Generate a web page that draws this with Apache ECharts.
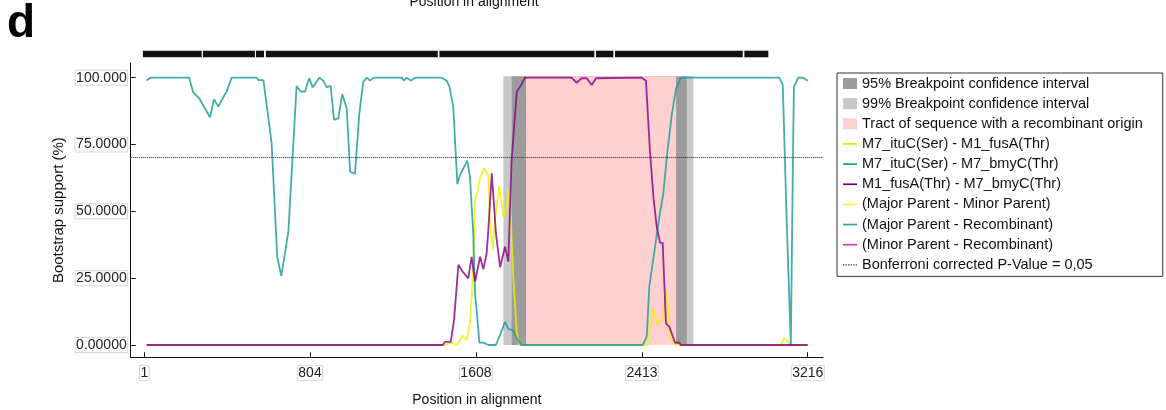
<!DOCTYPE html>
<html><head><meta charset="utf-8">
<script src="https://cdn.jsdelivr.net/npm/echarts@6/dist/echarts.min.js"></script>
<style>html,body{margin:0;padding:0;background:#fff}#chart{width:1166px;height:410px}</style>
</head><body><div id="chart"></div>
<script>
// ---------- data ----------
const xTicks = [1, 804, 1608, 2413, 3216];
const yTicks = [0, 25, 50, 75, 100];
const yTickLabels = ['0.00000', '25.0000', '50.0000', '75.0000', '100.000'];

const legendNames = [
  '95% Breakpoint confidence interval',
  '99% Breakpoint confidence interval',
  'Tract of sequence with a recombinant origin',
  'M7_ituC(Ser) - M1_fusA(Thr)',
  'M7_ituC(Ser) - M7_bmyC(Thr)',
  'M1_fusA(Thr) - M7_bmyC(Thr)',
  '(Major Parent - Minor Parent)',
  '(Major Parent - Recombinant)',
  '(Minor Parent - Recombinant)',
  'Bonferroni corrected P-Value = 0,05'
];

// M7_ituC(Ser) - M7_bmyC(Thr)  (teal)
const tealPos = [12, 30, 218, 238, 267, 319, 339, 360, 381, 400, 424, 546, 553, 578, 618, 645, 665, 699, 739, 759, 780, 800, 817, 849, 868, 885, 904, 920, 941, 960, 982, 998, 1022, 1043, 1062, 1079, 1095, 1111, 1248, 1260, 1273, 1292, 1313, 1442, 1466, 1480, 1498, 1507, 1518, 1531, 1566, 1579, 1595, 1604, 1625, 1644, 1668, 1705, 1728, 1749, 1765, 1786, 1806, 1827, 2416, 2436, 2448, 2468, 2492, 2516, 2536, 2557, 2578, 2600, 2613, 3078, 3095, 3114, 3134, 3143, 3149, 3170, 3194, 3216];
const tealVal = [98.9, 100, 100, 94.5, 92.3, 85.2, 91.9, 89.2, 92.3, 94.8, 100, 100, 99.1, 99.1, 75.5, 33.0, 25.8, 42.4, 96.9, 94.8, 94.8, 99.8, 96.4, 100, 98.9, 96.4, 97.0, 84.2, 84.8, 93.9, 88.5, 64.8, 64.0, 86.7, 98.5, 100, 98.9, 100, 100, 98.9, 100, 98.9, 100, 100, 98.9, 96.6, 89.2, 88.6, 60.2, 63.6, 69.0, 63.0, 41.8, 19.3, 0.9, 0.9, 0, 0, 4.4, 8.7, 5.9, 5.6, 2.5, 0, 0, 3.1, 21.8, 32.4, 45.5, 56.7, 72.3, 86.0, 96.0, 99.8, 100, 100, 97.3, 46.8, 0, 60.5, 96.6, 100, 100, 98.9];

// M1_fusA(Thr) - M7_bmyC(Thr)  (purple)
const purplePos = [12, 1447, 1458, 1486, 1502, 1523, 1544, 1571, 1587, 1604, 1628, 1644, 1660, 1668, 1685, 1705, 1725, 1749, 1765, 1781, 1806, 1822, 1846, 2072, 2096, 2120, 2145, 2169, 2190, 2411, 2432, 2451, 2468, 2484, 2500, 2513, 2529, 2545, 2573, 2594, 2600, 3216];
const purpleVal = [0, 0, 1.2, 1.2, 9.4, 30.0, 27.4, 24.9, 33.0, 23.7, 33.0, 28.3, 34.3, 43.0, 64.2, 41.8, 29.1, 36.8, 31.2, 69.2, 94.8, 96.6, 100, 100, 98.1, 99.8, 99.8, 97.3, 99.8, 100, 98.9, 73.0, 55.5, 44.3, 38.3, 38.2, 8.1, 6.9, 0.9, 0.9, 0, 0];

// M7_ituC(Ser) - M1_fusA(Thr)  (yellow)
const yellowPos = [12, 1458, 1490, 1515, 1544, 1563, 1579, 1592, 1604, 1615, 1628, 1647, 1668, 1676, 1689, 1700, 1721, 1741, 1754, 1765, 1777, 1789, 1806, 1818, 2419, 2440, 2465, 2487, 2513, 2532, 2548, 2567, 2581, 3085, 3101, 3122, 3130, 3216];
const yellowVal = [0, 0, 0.9, 0, 3.4, 1.9, 8.1, 24.3, 54.2, 57.4, 62.4, 66.1, 63.6, 46.8, 35.5, 46.8, 59.5, 48.0, 50.5, 58.2, 48.0, 25.6, 4.4, 0, 0, 0, 13.7, 7.9, 9.4, 20.6, 3.1, 0.9, 0, 0, 2.5, 1.2, 0, 0];

// breakpoint intervals (alignment positions)
const ci99 = [1741, 2662];
const ci95 = [1781, 2630];
const tract = [1851, 2578];
const bonferroni = 70.2;

// informative-site bar above the plot
const siteStart = [-6, 285, 542, 590, 1431, 2190, 2282, 2909];
const siteEnd = [279, 537, 581, 1423, 2182, 2274, 2901, 3025];

// ---------- chart ----------
const FONT = "'Liberation Sans', Arial, sans-serif";
const chart = echarts.init(document.getElementById('chart'), null, {renderer: 'canvas'});

function bandRender(params, api) {
  const p0 = api.coord([api.value(0), 0]);
  const p1 = api.coord([api.value(1), 100.5]);
  return {type: 'rect', shape: {x: p0[0], y: p1[1], width: p1[0] - p0[0], height: p0[1] - p1[1]},
    style: {fill: api.visual('color')}};
}
function siteRender(params, api) {
  const p0 = api.coord([api.value(0), 0]);
  const p1 = api.coord([api.value(1), 1]);
  return {type: 'rect', shape: {x: p0[0], y: p1[1], width: p1[0] - p0[0], height: p0[1] - p1[1]},
    style: {fill: '#111'}};
}
const zip = (a, b) => a.map((v, i) => [v, b[i]]);
const lineIcon = 'path://M0,0L14,0L14,1.7L0,1.7Z';
const dotIcon = 'path://M0,0h1.2v1.2h-1.2zM2.4,0h1.2v1.2h-1.2zM4.8,0h1.2v1.2h-1.2zM7.2,0h1.2v1.2h-1.2zM9.6,0h1.2v1.2h-1.2zM12,0h1.2v1.2h-1.2z';

const labelBox = {borderColor: '#d6d6d6', borderWidth: 1, padding: [1, 1, 0, 1]};

const lineSeries = (name, pos, val, color) => ({
  type: 'line', name, data: zip(pos, val), symbol: 'none', showSymbol: false,
  xAxisIndex: 0, yAxisIndex: 0, z: 3, color,
  lineStyle: {color, width: 1.8, opacity: 0.82}, animation: false
});

chart.setOption({
  animation: false,
  backgroundColor: '#fff',
  textStyle: {fontFamily: FONT},
  grid: [
    {left: 130.7, right: 343, top: 63, bottom: 52.7, outerBoundsMode: 'none', containLabel: false},
    {left: 130.7, right: 343, top: 50.7, height: 6.6, outerBoundsMode: 'none', containLabel: false}
  ],
  xAxis: [
    {type: 'value', gridIndex: 0, min: -65, max: 3290,
      name: 'Position in alignment', nameLocation: 'middle', nameGap: 36, nameMoveOverlap: false,
      nameTextStyle: {fontSize: 14, color: '#111', fontFamily: FONT},
      axisLine: {show: true, onZero: false, lineStyle: {color: '#111', width: 1}},
      axisTick: {show: true, inside: true, length: 5, customValues: xTicks, lineStyle: {color: '#111'}},
      axisLabel: {customValues: xTicks, fontSize: 14, color: '#222', margin: 8, fontFamily: FONT,
        formatter: v => String(v), ...labelBox},
      splitLine: {show: false}},
    {type: 'value', gridIndex: 1, min: -65, max: 3290, show: false}
  ],
  yAxis: [
    {type: 'value', gridIndex: 0, min: -4.6, max: 105.5,
      name: 'Bootstrap support (%)', nameLocation: 'middle', nameGap: 64, nameMoveOverlap: false,
      nameTextStyle: {fontSize: 15, color: '#111', fontFamily: FONT},
      axisLine: {show: true, onZero: false, lineStyle: {color: '#111', width: 1}},
      axisTick: {show: true, inside: true, length: 5, customValues: yTicks, lineStyle: {color: '#111'}},
      axisLabel: {customValues: yTicks, fontSize: 14, color: '#222', margin: 3, fontFamily: FONT,
        formatter: v => yTickLabels[yTicks.indexOf(v)], ...labelBox},
      splitLine: {show: false}},
    {type: 'value', gridIndex: 1, min: 0, max: 1, show: false}
  ],
  legend: {
    orient: 'vertical', left: 837, top: 73, itemWidth: 14, itemHeight: 11, itemGap: 5.15,
    padding: [3, 20, 4, 6], borderColor: '#333', borderWidth: 1, selectedMode: false,
    itemStyle: {borderWidth: 0},
    textStyle: {fontSize: 14.5, color: '#111', fontFamily: FONT},
    data: [
      {name: legendNames[0], icon: 'rect', itemStyle: {color: '#9c9c9c'}},
      {name: legendNames[1], icon: 'rect', itemStyle: {color: '#c8c8c8'}},
      {name: legendNames[2], icon: 'rect', itemStyle: {color: '#ffd0d0'}},
      {name: legendNames[3], icon: lineIcon, itemStyle: {color: '#e6e600'}},
      {name: legendNames[4], icon: lineIcon, itemStyle: {color: '#1a9a9a'}},
      {name: legendNames[5], icon: lineIcon, itemStyle: {color: '#800080'}},
      {name: legendNames[6], icon: lineIcon, itemStyle: {color: '#f2f230'}},
      {name: legendNames[7], icon: lineIcon, itemStyle: {color: '#30a2a2'}},
      {name: legendNames[8], icon: lineIcon, itemStyle: {color: '#c040c0'}},
      {name: legendNames[9], icon: dotIcon, itemStyle: {color: '#333'}}
    ]
  },
  series: [
    {type: 'custom', name: legendNames[1], data: [ci99], encode: {x: [0, 1]}, renderItem: bandRender,
      itemStyle: {color: '#c8c8c8'}, z: 1, silent: true},
    {type: 'custom', name: legendNames[0], data: [ci95], encode: {x: [0, 1]}, renderItem: bandRender,
      itemStyle: {color: '#9c9c9c'}, z: 1, silent: true},
    {type: 'custom', name: legendNames[2], data: [tract], encode: {x: [0, 1]}, renderItem: bandRender,
      itemStyle: {color: '#ffd0d0'}, z: 1, silent: true},
    {type: 'custom', xAxisIndex: 1, yAxisIndex: 1, data: zip(siteStart, siteEnd), encode: {x: [0, 1]},
      renderItem: siteRender, silent: true},
    lineSeries(legendNames[3], yellowPos, yellowVal, '#f0f000'),
    lineSeries(legendNames[4], tealPos, tealVal, '#1a9a9a'),
    lineSeries(legendNames[5], purplePos, purpleVal, '#880088'),
    {type: 'line', name: legendNames[6], data: [], color: '#f2f230'},
    {type: 'line', name: legendNames[7], data: [], color: '#30a2a2'},
    {type: 'line', name: legendNames[8], data: [], color: '#c040c0'},
    {type: 'line', name: legendNames[9], data: [], color: '#333',
      markLine: {silent: true, symbol: ['none', 'none'], label: {show: false},
        lineStyle: {color: '#222', type: 'dotted', width: 1}, data: [{yAxis: bonferroni}]}}
  ],
  graphic: [
    {type: 'text', x: 7, y: 24.4, style: {text: 'd', font: "bold 46px " + FONT, fill: '#000',
      textAlign: 'left', textVerticalAlign: 'middle'}},
    {type: 'text', x: 474, y: 2, style: {text: 'Position in alignment', font: "14px " + FONT, fill: '#111',
      textAlign: 'center', textVerticalAlign: 'middle'}}
  ]
});
</script></body></html>
